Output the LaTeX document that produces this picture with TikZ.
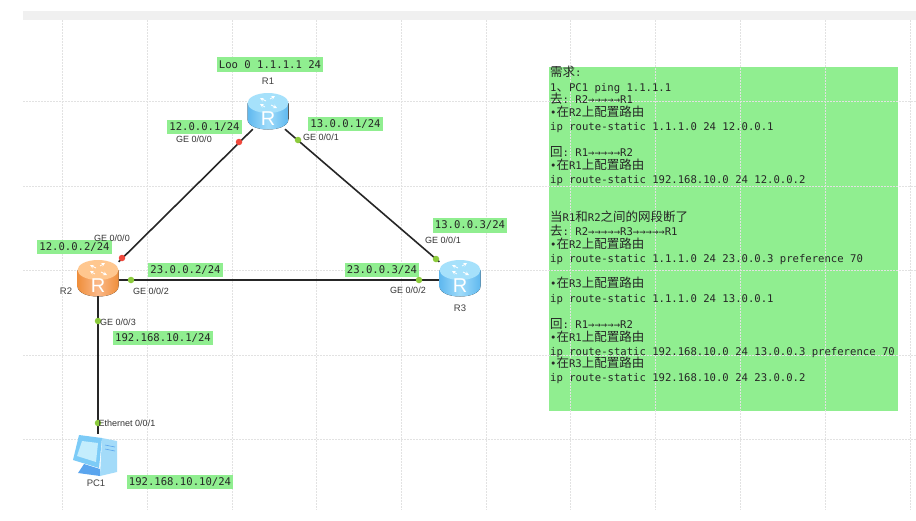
\documentclass[tikz,border=0pt]{standalone}
\usepackage{fontspec}
\setmainfont{Liberation Sans}
\setmonofont{DejaVu Sans Mono}
\newfontfamily\cjk{Noto Sans CJK SC}
\usetikzlibrary{arrows, positioning}
\definecolor{ipgreen}{HTML}{90EE90}
\definecolor{gridgrey}{HTML}{E2E2E2}
\definecolor{portgreen}{HTML}{8CCB3C}
\definecolor{portred}{HTML}{F0483C}
\definecolor{pcblue}{HTML}{7CCBF7}
\definecolor{pclight}{HTML}{C4EDFD}
\definecolor{pcdark}{HTML}{5AA5EE}
\definecolor{bluetop}{HTML}{A6E1FB}
\definecolor{blueside}{HTML}{5FB8EF}
\definecolor{bluemid}{HTML}{A0DCFA}
\definecolor{orangetop}{HTML}{FFC78F}
\definecolor{orangeside}{HTML}{EF8F3C}
\definecolor{orangemid}{HTML}{FBB888}
\newcommand{\zh}[1]{{\cjk\fontsize{12.5}{12.5}\selectfont #1}}
% router drawing: name, placement, top, middle, side
\newcommand{\routernode}[5]{%
    \node[routerbox, #2] (#1) {};
    \begin{scope}[shift={(#1.center)}]
        \fill[left color=#5, right color=#5, middle color=#4] (-20.5,-8) -- (-20.5,8) .. controls (-20.5,22) and (20.5,22) .. (20.5,8) -- (20.5,-8) -- cycle;
        \fill[#3] (0,-8) ellipse (20.5 and 10);
        \draw[routerglyph] (-2,-10) -- (-8,-13);
        \draw[routerglyph] (2,-12) -- (7,-15);
        \draw[routerglyph] (-3,-4) -- (-8,-7);
        \draw[routerglyph] (3,-6) -- (9,-3);
        \node[routerletter] (#1mark) at (0,7.5) {R};
    \end{scope}
}
\begin{document}
\begin{tikzpicture}[
        x=1pt, y=-1pt, on grid,
        routerbox/.style={rectangle, minimum width=41pt, minimum height=36pt, inner sep=0pt},
        pcbox/.style={rectangle, minimum width=44pt, minimum height=42pt, inner sep=0pt},
        routerletter/.style={text=white, font=\fontsize{20}{20}\selectfont, inner sep=0pt},
        routerglyph/.style={white, line width=.7pt, ->, >=stealth},
        link/.style={line width=1.6pt, black!85},
        iplabel/.style={fill=ipgreen, inner xsep=2pt, inner ysep=0pt, minimum height=14.5pt, text=black!85, font=\ttfamily\fontsize{10.6}{12}\selectfont},
        portlabel/.style={inner sep=0pt, text=black!80, font=\fontsize{9}{10}\selectfont},
        devlabel/.style={inner sep=0pt, text=black!75, font=\fontsize{9.5}{10}\selectfont},
        greendot/.style={circle, fill=portgreen, minimum size=6.5pt, inner sep=0pt},
        reddot/.style={circle, fill=portred, minimum size=6.5pt, inner sep=0pt},
        cfgline/.style={anchor=base west, inner sep=0pt, text=black!85, font=\ttfamily\fontsize{10.6}{12}\selectfont},
        gridline/.style={gridgrey, line width=.8pt, dash pattern=on 2pt off 1pt}
    ]
        \fill[white] (0,0) rectangle (916,520);
        \useasboundingbox (0,0) rectangle (916,520);

        % Top bar and note panel
        \fill[black!6] (23,11) rectangle (916,20);
        \fill[ipgreen] (549,67) rectangle (898,411);

        % Grid
        \foreach \gx in {62,147,232,316,401,486,570,655,740,825,910}
            \draw[gridline] (\gx,20) -- (\gx,510);
        \foreach \gy in {101,186,270,355,439}
            \draw[gridline] (23,\gy) -- (916,\gy);

        % Devices
        \routernode{R1}{at={(268,111)}}{bluetop}{bluemid}{blueside}
        \routernode{R2}{below left=167pt and 170pt of R1}{orangetop}{orangemid}{orangeside}
        \routernode{R3}{right=362pt of R2}{bluetop}{bluemid}{blueside}
        \node[pcbox, below=177pt of R2] (PC1) {};
        \fill[pcblue] (79,435) -- (102,438) -- (99,468) -- (73,460) -- cycle;
        \fill[pclight] (82,441) -- (98,443) -- (96,462) -- (77,456) -- cycle;
        \fill[pcdark] (84,464) -- (100,469) -- (100,476) -- (78,473) -- cycle;
        \fill[pcblue!70!white] (102,438) -- (117,441) -- (117,472) -- (100,476) -- cycle;
        \draw[pcdark, line width=.6pt] (105,445) -- (115,447);
        \draw[pcdark, line width=.6pt] (105,449) -- (115,451);

        % Edges
        \draw[link] (R1.-130) -- (R2.38);
        \draw[link] (R1.-47) -- (R3.142);
        \draw[link] ([yshift=-2pt]R2.east) -- ([yshift=-2pt]R3.west);
        \draw[link] (R2.south) -- (PC1.north);

        % Ports
        \node[reddot] (R1p0) at (239,142) {};
        \node[greendot] (R1p1) at (298,140) {};
        \node[reddot] (R2p0) at (122,258) {};
        \node[greendot] (R2p2) at (131,280) {};
        \node[greendot] (R2p3) at (98,321) {};
        \node[greendot] (R3p1) at (436,259) {};
        \node[greendot] (R3p2) at (419,280) {};
        \node[greendot] (PC1p0) at (98,423) {};

        % Address labels
        \node[iplabel] (R1loo) at (270,64.5) {Loo 0 1.1.1.1 24};
        \node[iplabel] (R1ip0) at (204.5,127) {12.0.0.1/24};
        \node[iplabel] (R1ip1) at (345.5,124) {13.0.0.1/24};
        \node[iplabel] (R2ip0) at (74.5,247) {12.0.0.2/24};
        \node[iplabel] (R2ip2) at (185.5,270) {23.0.0.2/24};
        \node[iplabel] (R2ip3) at (163,338) {192.168.10.1/24};
        \node[iplabel] (R3ip1) at (470,225.5) {13.0.0.3/24};
        \node[iplabel] (R3ip2) at (382,270) {23.0.0.3/24};
        \node[iplabel] (PC1ip) at (180,482) {192.168.10.10/24};

        % Port and device names
        \node[portlabel] (R1ge0) at (194,139) {GE 0/0/0};
        \node[portlabel] (R1ge1) at (321,137.5) {GE 0/0/1};
        \node[portlabel] (R2ge0) at (112,238) {GE 0/0/0};
        \node[portlabel] (R2ge2) at (151,291) {GE 0/0/2};
        \node[portlabel] (R2ge3) at (118,322) {GE 0/0/3};
        \node[portlabel] (R3ge1) at (443,240) {GE 0/0/1};
        \node[portlabel] (R3ge2) at (408,290) {GE 0/0/2};
        \node[portlabel] (PC1eth) at (127,423) {Ethernet 0/0/1};
        \node[devlabel, above=30pt of R1] (R1name) {R1};
        \node[devlabel, left=32pt of R2, yshift=-13pt] (R2name) {R2};
        \node[devlabel, below=30pt of R3] (R3name) {R3};
        \node[devlabel, below=28pt of PC1, xshift=-2pt] (PC1name) {PC1};

        % Note text
        \node[cfgline] (need) at (550,76) {\zh{需求}:};
        \node[cfgline] (ping) at (550,91) {1\zh{、}PC1 ping 1.1.1.1};
        \node[cfgline] (goA) at (550,103) {\zh{去}: R2→→→→→R1};
        \node[cfgline] (goAtitle) at (550,116.5) {•\zh{在}R2\zh{上配置路由}};
        \node[cfgline] (goAcmd) at (550,130) {ip route-static 1.1.1.0 24 12.0.0.1};
        \node[cfgline] (backA) at (550,156.5) {\zh{回}: R1→→→→→R2};
        \node[cfgline] (backAtitle) at (550,169.5) {•\zh{在}R1\zh{上配置路由}};
        \node[cfgline] (backAcmd) at (550,183) {ip route-static 192.168.10.0 24 12.0.0.2};
        \node[cfgline] (broken) at (550,221.5) {\zh{当}R1\zh{和}R2\zh{之间的网段断了}};
        \node[cfgline] (goB) at (550,235) {\zh{去}: R2→→→→→R3→→→→→R1};
        \node[cfgline] (goBtitle) at (550,248) {•\zh{在}R2\zh{上配置路由}};
        \node[cfgline] (goBcmd) at (550,262) {ip route-static 1.1.1.0 24 23.0.0.3 preference 70};
        \node[cfgline] (goCtitle) at (550,287.5) {•\zh{在}R3\zh{上配置路由}};
        \node[cfgline] (goCcmd) at (550,302) {ip route-static 1.1.1.0 24 13.0.0.1};
        \node[cfgline] (backB) at (550,328.5) {\zh{回}: R1→→→→→R2};
        \node[cfgline] (backBtitle) at (550,341.5) {•\zh{在}R1\zh{上配置路由}};
        \node[cfgline] (backBcmd) at (550,355) {ip route-static 192.168.10.0 24 13.0.0.3 preference 70};
        \node[cfgline] (backCtitle) at (550,367.5) {•\zh{在}R3\zh{上配置路由}};
        \node[cfgline] (backCcmd) at (550,381) {ip route-static 192.168.10.0 24 23.0.0.2};
    \end{tikzpicture}
\end{document}
